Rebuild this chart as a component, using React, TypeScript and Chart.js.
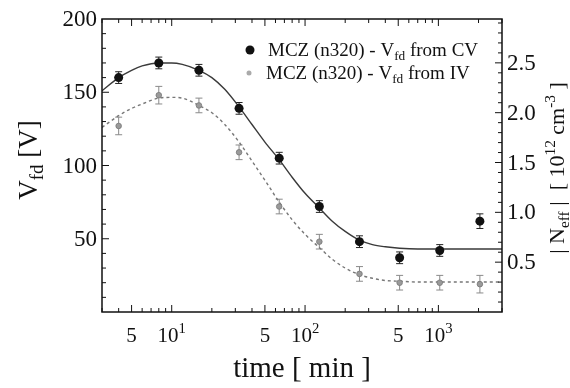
import React, { useEffect, useRef } from "react";
import { Chart, registerables } from "chart.js";
Chart.register(...registerables);

// ---- data ----
const times = [4, 8, 16, 32, 64, 128, 256, 512, 1024, 2048];
const vfdCV = [160, 170, 165, 139, 105, 72, 48, 37, 42, 62];
const errCV = [4, 4, 4, 4, 4, 4, 4, 4, 4, 5];
const vfdIV = [127, 148, 141, 109, 72, 48, 26, 20, 20, 19];
const errIV = [6, 6, 5, 5, 5, 5, 5, 5, 5, 6];

const fitTimes = [3, 4, 5, 6, 8, 10, 12, 16, 20, 25, 32, 40, 50, 64, 80, 100, 128, 160, 200, 256, 320, 400, 512, 700, 1000, 2000, 3000];
const fitCV = [151, 160, 165, 168, 170, 170, 169, 165, 160, 152, 140, 128, 116, 104, 92, 81, 71, 62, 55, 49, 46, 44.5, 43.5, 43, 43, 43, 43];
const fitIV = [126, 134, 139, 142, 146, 146.5, 146, 141, 136, 128, 116, 103, 90, 75, 63, 53, 44, 36, 30, 25.5, 23, 21.5, 21, 20.5, 20.5, 20.5, 20.5];

const xTickValues = [5, 10, 50, 100, 500, 1000];
const xTickBase = ["5", "10", "5", "10", "5", "10"];
const xTickSup = ["", "1", "", "2", "", "3"];
const leftTicks = [50, 100, 150, 200];
const rightTicks = [0.5, 1.0, 1.5, 2.0, 2.5];

const legendLabels = ["MCZ (n320) - V", "MCZ (n320) - V"];
const legendSubs = ["fd", "fd"];
const legendTails = [" from CV", " from IV"];

const FONT = "'Liberation Serif', 'Times New Roman', serif";

type Seg = { t: string; s?: "sub" | "sup" };

function richWidth(ctx: CanvasRenderingContext2D, segs: Seg[], size: number) {
  let w = 0;
  for (const sg of segs) {
    const fs = sg.s ? size * 0.7 : size;
    ctx.font = `${fs}px ${FONT}`;
    w += ctx.measureText(sg.t).width;
  }
  return w;
}

function drawRich(ctx: CanvasRenderingContext2D, segs: Seg[], x: number, y: number, size: number, align: "left" | "center" | "right") {
  const w = richWidth(ctx, segs, size);
  let cx = align === "left" ? x : align === "center" ? x - w / 2 : x - w;
  ctx.textAlign = "left";
  ctx.textBaseline = "alphabetic";
  for (const sg of segs) {
    const fs = sg.s ? size * 0.7 : size;
    ctx.font = `${fs}px ${FONT}`;
    const dy = sg.s === "sub" ? size * 0.22 : sg.s === "sup" ? -size * 0.42 : 0;
    ctx.fillText(sg.t, cx, y + dy);
    cx += ctx.measureText(sg.t).width;
  }
}

const decorPlugin = {
  id: "decor",
  beforeDatasetsDraw(chart: any) {
    const ctx: CanvasRenderingContext2D = chart.ctx;
    const x = chart.scales.x;
    const y = chart.scales.y;
    ctx.save();
    const drawErr = (vals: number[], errs: number[], color: string) => {
      ctx.strokeStyle = color;
      ctx.lineWidth = 1;
      vals.forEach((v, i) => {
        const px = x.getPixelForValue(times[i]);
        const top = y.getPixelForValue(v + errs[i]);
        const bot = y.getPixelForValue(v - errs[i]);
        ctx.beginPath();
        ctx.moveTo(px, top);
        ctx.lineTo(px, bot);
        ctx.moveTo(px - 3.5, top);
        ctx.lineTo(px + 3.5, top);
        ctx.moveTo(px - 3.5, bot);
        ctx.lineTo(px + 3.5, bot);
        ctx.stroke();
      });
    };
    drawErr(vfdIV, errIV, "#8a8a8a");
    drawErr(vfdCV, errCV, "#222");
    ctx.restore();
  },
  afterDraw(chart: any) {
    const ctx: CanvasRenderingContext2D = chart.ctx;
    const a = chart.chartArea;
    const x = chart.scales.x;
    const y = chart.scales.y;
    const y2 = chart.scales.y2;
    ctx.save();
    ctx.fillStyle = "#111";
    ctx.strokeStyle = "#111";
    // frame
    ctx.lineWidth = 1.5;
    ctx.strokeRect(a.left, a.top, a.right - a.left, a.bottom - a.top);
    // ticks
    ctx.lineWidth = 1;
    ctx.beginPath();
    for (let d = 0; d <= 3; d++) {
      for (let m = 1; m <= 9; m++) {
        const v = m * Math.pow(10, d);
        if (v < x.min || v > x.max) continue;
        const px = x.getPixelForValue(v);
        const len = m === 1 || m === 5 ? 7 : 4;
        ctx.moveTo(px, a.bottom);
        ctx.lineTo(px, a.bottom - len);
        ctx.moveTo(px, a.top);
        ctx.lineTo(px, a.top + len);
      }
    }
    for (let v = 10; v < 200; v += 10) {
      const py = y.getPixelForValue(v);
      const len = v % 50 === 0 ? 7 : 4;
      ctx.moveTo(a.left, py);
      ctx.lineTo(a.left + len, py);
    }
    for (let k = 1; k < 30; k++) {
      const v = k / 10;
      if (v > y2.max) break;
      const py = y2.getPixelForValue(v);
      const len = k % 5 === 0 ? 7 : 4;
      ctx.moveTo(a.right, py);
      ctx.lineTo(a.right - len, py);
    }
    ctx.stroke();

    // left tick labels
    ctx.font = `23px ${FONT}`;
    ctx.textAlign = "right";
    ctx.textBaseline = "middle";
    leftTicks.forEach((v) => ctx.fillText(String(v), a.left - 5, y.getPixelForValue(v) + 1));
    // right tick labels
    ctx.textAlign = "left";
    rightTicks.forEach((v) => ctx.fillText(v.toFixed(1), a.right + 5, y2.getPixelForValue(v) + 1));
    // x tick labels
    xTickValues.forEach((v, i) => {
      const px = x.getPixelForValue(v);
      const segs: Seg[] = [{ t: xTickBase[i] }];
      if (xTickSup[i]) segs.push({ t: xTickSup[i], s: "sup" });
      drawRich(ctx, segs, px, 342, 21, "center");
    });

    // axis titles
    drawRich(ctx, [{ t: "time [ min ]" }], (a.left + a.right) / 2, 377, 29, "center");
    ctx.save();
    ctx.translate(37, 160);
    ctx.rotate(-Math.PI / 2);
    drawRich(ctx, [{ t: "V" }, { t: "fd", s: "sub" }, { t: " [V]" }], 0, 0, 27, "center");
    ctx.restore();
    ctx.save();
    ctx.translate(564, 168);
    ctx.rotate(-Math.PI / 2);
    drawRich(
      ctx,
      [
        { t: "| N" },
        { t: "eff", s: "sub" },
        { t: " |  [ 10" },
        { t: "12", s: "sup" },
        { t: " cm" },
        { t: "-3", s: "sup" },
        { t: " ]" },
      ],
      0,
      0,
      22,
      "center"
    );
    ctx.restore();

    // legend
    const lx = [250, 249];
    const ly = [50, 73];
    const tx = [268, 266];
    const tb = [56, 79];
    // markers
    ctx.fillStyle = "#111";
    ctx.beginPath();
    ctx.arc(lx[0], ly[0], 4.5, 0, Math.PI * 2);
    ctx.fill();
    ctx.fillStyle = "#aaa";
    ctx.beginPath();
    ctx.arc(lx[1], ly[1], 2.5, 0, Math.PI * 2);
    ctx.fill();
    ctx.fillStyle = "#111";
    for (let i = 0; i < 2; i++) {
      drawRich(ctx, [{ t: legendLabels[i] }, { t: legendSubs[i], s: "sub" }, { t: legendTails[i] }], tx[i], tb[i], 19, "left");
    }
    ctx.restore();
  },
};

export default function App() {
  const ref = useRef<HTMLCanvasElement>(null);
  useEffect(() => {
    document.body.style.margin = "0";
    const canvas = ref.current!;
    const chart = new Chart(canvas, {
      type: "scatter",
      data: {
        datasets: [
          {
            label: "CV points",
            data: times.map((t, i) => ({ x: t, y: vfdCV[i] })),
            backgroundColor: "#111",
            borderColor: "#111",
            pointRadius: 4.5,
            pointBorderWidth: 0,
            showLine: false,
            order: 0,
          },
          {
            label: "IV points",
            data: times.map((t, i) => ({ x: t, y: vfdIV[i] })),
            backgroundColor: "#9a9a9a",
            borderColor: "#777",
            pointRadius: 2.8,
            pointBorderWidth: 0.8,
            showLine: false,
            order: 1,
          },
          {
            label: "CV fit",
            data: fitTimes.map((t, i) => ({ x: t, y: fitCV[i] })),
            showLine: true,
            borderColor: "#3a3a3a",
            borderWidth: 1.4,
            pointRadius: 0,
            cubicInterpolationMode: "monotone",
            order: 2,
          },
          {
            label: "IV fit",
            data: fitTimes.map((t, i) => ({ x: t, y: fitIV[i] })),
            showLine: true,
            borderColor: "#777",
            borderWidth: 1.4,
            borderDash: [3, 3],
            pointRadius: 0,
            cubicInterpolationMode: "monotone",
            order: 3,
          },
        ],
      },
      options: {
        responsive: false,
        animation: false,
        devicePixelRatio: 1,
        layout: { padding: { top: 19, left: 0, right: 0, bottom: 0 } },
        plugins: { legend: { display: false }, tooltip: { enabled: false }, title: { display: false } },
        scales: {
          x: {
            type: "logarithmic",
            min: 3,
            max: 3000,
            ticks: { display: false },
            grid: { display: false, drawTicks: false },
            border: { display: false },
            afterFit: (s: any) => {
              s.height = 76;
            },
          },
          y: {
            type: "linear",
            position: "left",
            min: 0,
            max: 200,
            ticks: { display: false },
            grid: { display: false, drawTicks: false },
            border: { display: false },
            afterFit: (s: any) => {
              s.width = 102;
            },
          },
          y2: {
            type: "linear",
            position: "right",
            min: 0,
            max: 2.94,
            ticks: { display: false },
            grid: { display: false, drawTicks: false },
            border: { display: false },
            afterFit: (s: any) => {
              s.width = 68;
            },
          },
        },
      },
      plugins: [decorPlugin],
    } as any);
    return () => chart.destroy();
  }, []);
  return (
    <div style={{ width: 570, height: 388, background: "#fff" }}>
      <canvas ref={ref} width={570} height={388} style={{ display: "block" }} />
    </div>
  );
}
